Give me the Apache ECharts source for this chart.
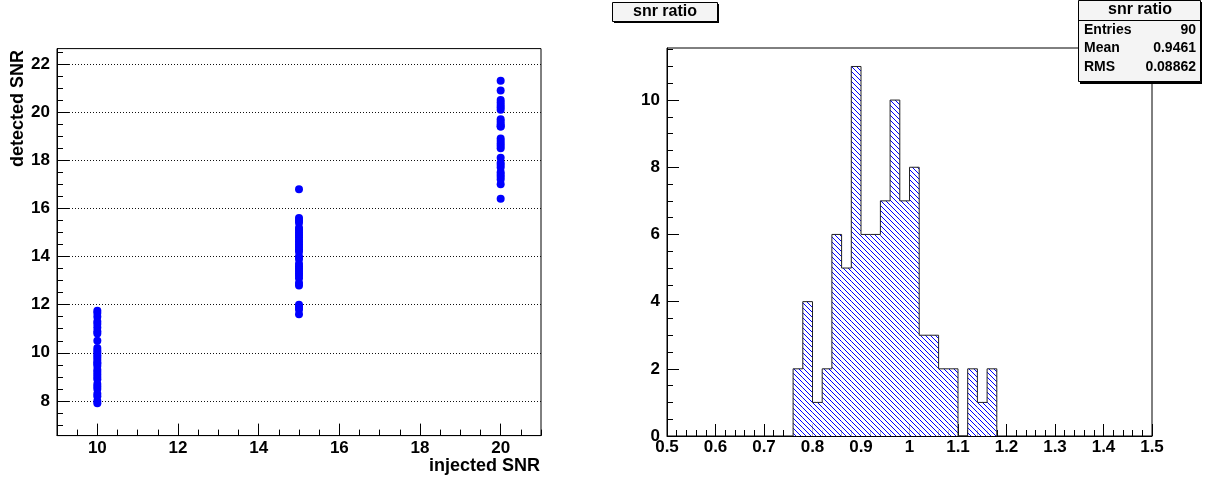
<!DOCTYPE html>
<html>
<head>
<meta charset="utf-8">
<script src="https://cdn.jsdelivr.net/npm/echarts@6/dist/echarts.min.js"></script>
<style>
html,body{margin:0;padding:0;background:#fff;}
#chart{width:1212px;height:480px;}
</style>
</head>
<body>
<div id="chart"></div>
<script>
// ---- Left panel: detected vs injected SNR ----
const injected = [10, 15, 20];
const detected10 = [11.75, 11.65, 11.5, 11.3, 11.2, 11.05, 10.9, 10.8, 10.5, 10.2, 10.1, 10.0, 9.9, 9.8, 9.7, 9.6, 9.55, 9.45, 9.3, 9.2, 9.1, 9.0, 8.9, 8.7, 8.6, 8.5, 8.3, 8.2, 8.0, 7.9];
const detected15 = [16.8, 15.6, 15.5, 15.4, 15.2, 15.1, 15.0, 14.9, 14.8, 14.7, 14.6, 14.5, 14.4, 14.3, 14.2, 14.0, 13.9, 13.7, 13.6, 13.5, 13.4, 13.3, 13.2, 13.1, 12.9, 12.8, 12.0, 11.9, 11.8, 11.6];
const detected20 = [21.3, 20.9, 20.5, 20.4, 20.3, 20.2, 20.1, 19.7, 19.6, 19.5, 19.4, 19.4, 18.9, 18.8, 18.7, 18.6, 18.5, 18.1, 17.9, 17.8, 17.7, 17.5, 17.4, 17.3, 17.2, 17.0, 16.4];
const leftXTicks = ['10', '12', '14', '16', '18', '20'];
const leftYTicks = ['8', '10', '12', '14', '16', '18', '20', '22'];

// ---- Right panel: snr ratio histogram ----
const binLefts = [0.76, 0.78, 0.80, 0.82, 0.84, 0.86, 0.88, 0.90, 0.92, 0.94, 0.96, 0.98, 1.00, 1.02, 1.04, 1.06, 1.08, 1.10, 1.12, 1.14, 1.16];
const binCounts = [2, 4, 1, 2, 6, 5, 11, 6, 6, 7, 10, 7, 8, 3, 3, 2, 2, 0, 2, 1, 2];
const binWidth = 0.02;
const rightXTicks = ['0.5', '0.6', '0.7', '0.8', '0.9', '1', '1.1', '1.2', '1.3', '1.4', '1.5'];
const rightYTicks = ['0', '2', '4', '6', '8', '10'];
const statsTitle = 'snr ratio';
const statsLabels = ['Entries', 'Mean', 'RMS'];
const statsValues = ['90', '0.9461', '0.08862'];

// ---------------------------------------------------------------
const FONT = '"Liberation Sans", Arial, Helvetica, sans-serif';

function range(a, b, step) { // tick positions
  const out = [];
  const n = Math.round((b - a) / step);
  for (let i = 0; i <= n; i++) out.push(+(a + i * step).toFixed(6));
  return out;
}

// hatch pattern (\\\\) in blue
const pc = document.createElement('canvas');
pc.width = 5; pc.height = 5;
const pctx = pc.getContext('2d');
pctx.fillStyle = '#ffffff';
pctx.fillRect(0, 0, 5, 5);
pctx.fillStyle = '#0000ff';
for (let i = 0; i < 5; i++) pctx.fillRect(i, i, 1, 1);

const scatterData = [];
[detected10, detected15, detected20].forEach((arr, k) => {
  arr.forEach(v => scatterData.push([injected[k], v]));
});

const histData = binLefts.map((x, i) => [x, binCounts[i]]);
const outline = [[binLefts[0], 0]];
binLefts.forEach((x, i) => outline.push([x, binCounts[i]]));
outline.push([+(binLefts[binLefts.length - 1] + binWidth).toFixed(6), 0]);

const labelStyle = { fontFamily: FONT, fontWeight: 'bold', fontSize: 17, color: '#000' };

function majorAxis(gridIndex, min, max, labels, extra) {
  const base = {
    type: 'value', gridIndex, min, max,
    axisLine: { show: true, lineStyle: { color: '#000', width: 1 } },
    axisTick: { show: true, inside: true, length: 12, customValues: labels.map(Number), lineStyle: { color: '#000' } },
    axisLabel: Object.assign({ customValues: labels.map(Number), formatter: v => String(+(+v).toFixed(2)) }, labelStyle),
    splitLine: { show: false },
  };
  return Object.assign(base, extra || {});
}
function minorAxis(gridIndex, min, max, minors, position) {
  return {
    type: 'value', gridIndex, min, max, position,
    axisLine: { show: false },
    axisTick: { show: true, inside: true, length: 6, customValues: minors, lineStyle: { color: '#000' } },
    axisLabel: { show: false },
    splitLine: { show: false },
  };
}

const chart = echarts.init(document.getElementById('chart'), null, { renderer: 'canvas' });
const option = {
  animation: false,
  backgroundColor: '#fff',
  grid: [
    { left: 57, top: 48.6, width: 484, height: 387, show: true, borderColor: '#000', borderWidth: 1, backgroundColor: 'transparent' },
    { left: 667, top: 48, width: 485, height: 388, show: true, borderColor: '#000', borderWidth: 1, backgroundColor: 'transparent' },
  ],
  xAxis: [
    majorAxis(0, 9, 21, leftXTicks, { position: 'bottom', axisLabel: Object.assign({ customValues: leftXTicks.map(Number), margin: 4 }, labelStyle) }),
    minorAxis(0, 9, 21, range(9, 21, 0.5), 'bottom'),
    majorAxis(1, 0.5, 1.5, rightXTicks, { position: 'bottom', axisLabel: Object.assign({ customValues: rightXTicks.map(Number), margin: 3, formatter: v => String(+(+v).toFixed(1)) }, labelStyle) }),
    minorAxis(1, 0.5, 1.5, range(0.5, 1.5, 0.02), 'bottom'),
  ],
  yAxis: [
    majorAxis(0, 6.56, 22.64, leftYTicks, {
      position: 'left',
      axisLabel: Object.assign({ customValues: leftYTicks.map(Number), margin: 7 }, labelStyle),
      splitLine: { show: true, customValues: leftYTicks.map(Number), lineStyle: { color: '#111', width: 1, type: [1, 2] } },
    }),
    minorAxis(0, 6.56, 22.64, range(7, 22.5, 0.5), 'left'),
    majorAxis(1, 0, 11.55, rightYTicks, { position: 'left', axisLabel: Object.assign({ customValues: rightYTicks.map(Number), margin: 7 }, labelStyle) }),
    minorAxis(1, 0, 11.55, range(0, 11.5, 0.5), 'left'),
  ],
  series: [
    {
      type: 'scatter', xAxisIndex: 0, yAxisIndex: 0,
      data: scatterData, symbol: 'circle', symbolSize: 8,
      itemStyle: { color: '#0000ff', opacity: 1 },
    },
    {
      type: 'custom', xAxisIndex: 2, yAxisIndex: 2,
      data: histData,
      renderItem: function (params, api) {
        const x0 = api.value(0), c = api.value(1);
        if (!c) return null;
        const p1 = api.coord([x0, c]);
        const p2 = api.coord([x0 + binWidth, 0]);
        return {
          type: 'rect',
          shape: { x: p1[0], y: p1[1], width: p2[0] - p1[0], height: p2[1] - p1[1] },
          style: { fill: { image: pc, repeat: 'repeat' }, stroke: null },
        };
      },
    },
    {
      type: 'line', xAxisIndex: 2, yAxisIndex: 2,
      data: outline, step: 'end', showSymbol: false, symbol: 'none',
      lineStyle: { color: '#222', width: 1 },
    },
  ],
  graphic: [
    // axis titles
    { type: 'text', x: 18, y: 50, rotation: Math.PI / 2,
      style: { text: 'detected SNR', align: 'right', verticalAlign: 'middle', font: 'bold 18px ' + FONT, fill: '#000' } },
    { type: 'text', x: 540, y: 466,
      style: { text: 'injected SNR', align: 'right', verticalAlign: 'middle', font: 'bold 18px ' + FONT, fill: '#000' } },
    // title box (right pad)
    { type: 'rect', shape: { x: 614, y: 4, width: 105, height: 19 }, style: { fill: '#000' } },
    { type: 'rect', shape: { x: 612.5, y: 2.5, width: 105, height: 19 }, style: { fill: '#f4f4f4', stroke: '#000', lineWidth: 1 } },
    { type: 'text', x: 665, y: 12, style: { text: statsTitle, align: 'center', verticalAlign: 'middle', font: 'bold 16px ' + FONT, fill: '#000' } },
    // stats box
    { type: 'rect', shape: { x: 1080, y: 2, width: 122, height: 82 }, style: { fill: '#000' } },
    { type: 'rect', shape: { x: 1078.5, y: 0.5, width: 122, height: 81 }, style: { fill: '#f4f4f4', stroke: '#000', lineWidth: 1 } },
    { type: 'line', shape: { x1: 1078.5, y1: 20.5, x2: 1200.5, y2: 20.5 }, style: { stroke: '#000', lineWidth: 1 } },
    { type: 'text', x: 1140, y: 10, style: { text: statsTitle, align: 'center', verticalAlign: 'middle', font: 'bold 16px ' + FONT, fill: '#000' } },
  ].concat(
    statsLabels.map((t, i) => ({ type: 'text', x: 1084, y: 30 + i * 18.5, style: { text: t, align: 'left', verticalAlign: 'middle', font: 'bold 14px ' + FONT, fill: '#000' } })),
    statsValues.map((t, i) => ({ type: 'text', x: 1196, y: 30 + i * 18.5, style: { text: t, align: 'right', verticalAlign: 'middle', font: 'bold 14px ' + FONT, fill: '#000' } }))
  ),
};
chart.setOption(option);
</script>
</body>
</html>
